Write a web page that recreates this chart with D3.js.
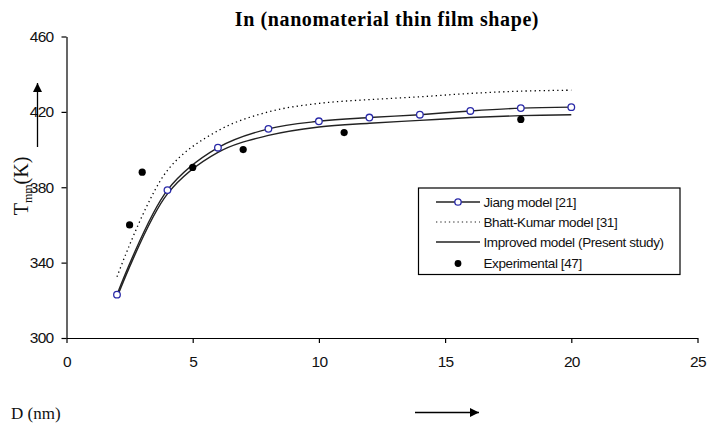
<!DOCTYPE html>
<html>
<head>
<meta charset="utf-8">
<script src="https://cdn.jsdelivr.net/npm/d3@7"></script>
<style>
    body { margin: 0; background: #fff; }
    svg { display: block; }
</style>
</head>
<body>
<div id="container"></div>
<script>

// chart data
const title = 'In (nanomaterial thin film shape)';
const xTicks = [0, 5, 10, 15, 20, 25];
const yTicks = [300, 340, 380, 420, 460];

const modelD = [2, 4, 6, 8, 10, 12, 14, 16, 18, 20];
const jiang = [323, 378.5, 401, 411, 415, 417, 418.5, 420.5, 422, 422.5];
const bhattKumar = [332.5, 389, 410, 420, 424.5, 426.5, 428, 429.8, 431, 431.5];
const improved = [321.5, 376.5, 398.5, 407.5, 412, 414, 415.5, 417, 418, 418.5];

const expD = [2.5, 3, 5, 7, 11, 18];
const expT = [360, 388, 390.5, 400, 409, 416];

const legendLabels = ['Jiang model [21]', 'Bhatt-Kumar model [31]', 'Improved model (Present study)', 'Experimental [47]'];

// svg dimensions
const w = 707;
const h = 423;

const svg = d3.select('#container')
                .append('svg')
                .attr('width', w)
                .attr('height', h);

// scales
const xScale = d3.scaleLinear()
                .domain([0, 25])
                .range([66.5, 697.5]);

const yScale = d3.scaleLinear()
                .domain([300, 460])
                .range([338, 36.5]);

// axes
const xAxis = d3.axisBottom(xScale)
                .tickValues(xTicks)
                .tickSize(5)
                .tickSizeOuter(0)
                .tickPadding(13);

const yAxis = d3.axisLeft(yScale)
                .tickValues(yTicks)
                .tickSize(5)
                .tickSizeOuter(0)
                .tickPadding(8);

const gx = svg.append('g')
    .attr('transform', `translate(0, ${yScale(300)})`)
    .call(xAxis);

const gy = svg.append('g')
    .attr('transform', `translate(${xScale(0)}, 0)`)
    .call(yAxis);

[gx, gy].forEach(g => {
    g.selectAll('path, line').attr('stroke', '#000').attr('stroke-width', 1.2);
    g.selectAll('text')
        .attr('fill', '#111')
        .style('font-family', '"Liberation Sans", Arial, sans-serif')
        .style('font-size', '15.5px')
        .style('letter-spacing', '-0.7px');
});

// title
svg.append('text')
    .attr('x', 387)
    .attr('y', 26)
    .attr('text-anchor', 'middle')
    .style('font-family', '"Liberation Serif", "Times New Roman", serif')
    .style('font-weight', 'bold')
    .style('font-size', '20px')
    .style('letter-spacing', '0.6px')
    .text(title);

// axis titles
const yLabel = svg.append('text')
    .attr('transform', 'translate(28, 186) rotate(-90)')
    .attr('text-anchor', 'middle')
    .style('font-family', '"Liberation Serif", "Times New Roman", serif')
    .style('font-size', '20px')
    .attr('fill', '#111');
yLabel.append('tspan').text('T');
yLabel.append('tspan').attr('dy', 4).style('font-size', '12px').text('mm');
yLabel.append('tspan').attr('dy', -4).text('(K)');

svg.append('text')
    .attr('x', 11)
    .attr('y', 419)
    .style('font-family', '"Liberation Serif", "Times New Roman", serif')
    .style('font-size', '17px')
    .attr('fill', '#111')
    .text('D (nm)');

// arrows
const defs = svg.append('defs');
defs.append('marker')
    .attr('id', 'arrow')
    .attr('viewBox', '0 0 10 10')
    .attr('refX', 10)
    .attr('refY', 5)
    .attr('markerWidth', 9)
    .attr('markerHeight', 9)
    .attr('markerUnits', 'userSpaceOnUse')
    .attr('orient', 'auto')
    .append('path')
    .attr('d', 'M0,0 L10,5 L0,10 Z')
    .attr('fill', '#000');

svg.append('line')
    .attr('x1', 37.5).attr('y1', 147)
    .attr('x2', 37.5).attr('y2', 83)
    .attr('stroke', '#000').attr('stroke-width', 1.3)
    .attr('marker-end', 'url(#arrow)');

svg.append('line')
    .attr('x1', 415).attr('y1', 412.5)
    .attr('x2', 479).attr('y2', 412.5)
    .attr('stroke', '#000').attr('stroke-width', 1.3)
    .attr('marker-end', 'url(#arrow)');

// lines
const line = d3.line()
    .x(d => xScale(d[0]))
    .y(d => yScale(d[1]))
    .curve(d3.curveCatmullRom.alpha(0.5));

const toPts = vals => modelD.map((d, i) => [d, vals[i]]);

svg.append('path')
    .attr('d', line(toPts(bhattKumar)))
    .attr('fill', 'none')
    .attr('stroke', '#000')
    .attr('stroke-width', 1.3)
    .attr('stroke-dasharray', '1.3,3.2');

svg.append('path')
    .attr('d', line(toPts(improved)))
    .attr('fill', 'none')
    .attr('stroke', '#222')
    .attr('stroke-width', 1.4);

svg.append('path')
    .attr('d', line(toPts(jiang)))
    .attr('fill', 'none')
    .attr('stroke', '#222')
    .attr('stroke-width', 1.4);

// jiang markers
svg.selectAll('.jiang')
    .data(toPts(jiang))
    .enter()
    .append('circle')
    .attr('class', 'jiang')
    .attr('cx', d => xScale(d[0]))
    .attr('cy', d => yScale(d[1]))
    .attr('r', 3.3)
    .attr('fill', '#fff')
    .attr('stroke', '#2a2aa8')
    .attr('stroke-width', 1.3);

// experimental points
svg.selectAll('.exp')
    .data(expD.map((d, i) => [d, expT[i]]))
    .enter()
    .append('circle')
    .attr('class', 'exp')
    .attr('cx', d => xScale(d[0]))
    .attr('cy', d => yScale(d[1]))
    .attr('r', 3.6)
    .attr('fill', '#000');

// legend
const legend = svg.append('g').attr('transform', 'translate(418.5, 188)');

legend.append('rect')
    .attr('width', 261.5)
    .attr('height', 86.5)
    .attr('fill', '#fff')
    .attr('stroke', '#000')
    .attr('stroke-width', 1.2);

const rowY = [14, 34, 54, 75.5];

legendLabels.forEach((label, i) => {
    const y = rowY[i];
    if (i < 3) {
        legend.append('line')
            .attr('x1', 17.5).attr('x2', 61.5)
            .attr('y1', y).attr('y2', y)
            .attr('stroke', '#222')
            .attr('stroke-width', i === 1 ? 1.2 : 1.3)
            .attr('stroke-dasharray', i === 1 ? '1.3,3' : null);
    }
    if (i === 0) {
        legend.append('circle')
            .attr('cx', 39.5).attr('cy', y).attr('r', 3.2)
            .attr('fill', '#fff').attr('stroke', '#2a2aa8').attr('stroke-width', 1.3);
    }
    if (i === 3) {
        legend.append('circle')
            .attr('cx', 39.5).attr('cy', y).attr('r', 3.4)
            .attr('fill', '#000');
    }
    legend.append('text')
        .attr('x', 65)
        .attr('y', y)
        .attr('dy', '0.35em')
        .style('font-family', '"Liberation Sans", Arial, sans-serif')
        .style('font-size', '13.5px')
        .style('letter-spacing', '-0.4px')
        .attr('fill', '#111')
        .text(label);
});

</script>
</body>
</html>
